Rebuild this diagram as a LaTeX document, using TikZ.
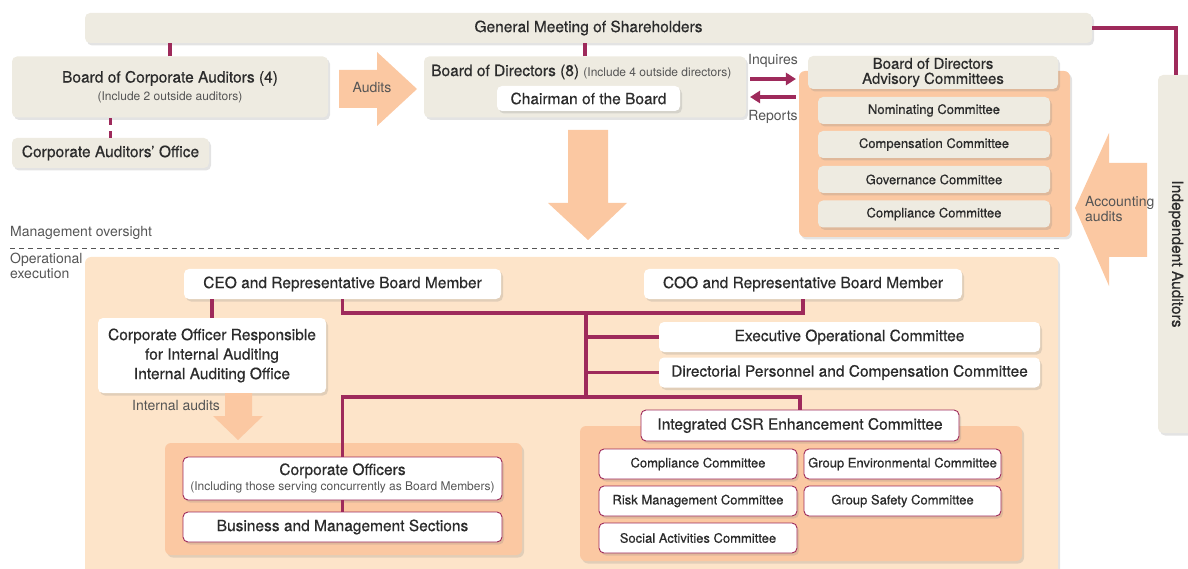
\documentclass[tikz,border=0pt]{standalone}
\usepackage{fontspec}
\setmainfont{TeX Gyre Heros}
\newfontfamily\medfont{TeX Gyre Heros}[FakeBold=0.5]
\usetikzlibrary{positioning,calc,shadows,arrows.meta}

\definecolor{beige}{HTML}{EEEBE1}
\definecolor{peachlight}{HTML}{FDE4C9}
\definecolor{peach}{HTML}{FBC8A2}
\definecolor{wine}{HTML}{9E2A5B}
\definecolor{ink}{HTML}{2B2B2B}
\definecolor{softink}{HTML}{555555}

\newcommand\mainsize{\medfont\fontsize{15.5}{18}\selectfont}
\newcommand\cmtsize{\medfont\fontsize{13}{15}\selectfont}
\newcommand\parensize{\normalfont\fontsize{12}{14}\selectfont}
\newcommand\notesize{\fontsize{14}{15}\selectfont}

\tikzset{
  shadowed/.style={drop shadow={shadow xshift=2pt,shadow yshift=-2.5pt,opacity=0.22}},
  beigebox/.style={shadowed, fill=beige, rounded corners=5pt, inner sep=1pt, align=center, font=\mainsize},
  whitebox/.style={shadowed, fill=white, rounded corners=5pt, inner sep=1pt, align=center, font=\mainsize},
  redbox/.style={whitebox, draw=wine, line width=0.9pt},
  region/.style={shadowed, fill=peach, rounded corners=6pt},
  link/.style={color=wine, line width=3.5pt},
  note/.style={text=softink, font=\notesize, inner sep=0pt}
}

\begin{document}
\begin{tikzpicture}[x=1pt,y=-1pt, every node/.style={text=ink}]
		\useasboundingbox (0,0) rectangle (1188,569);

		\path[shadowed, fill=peachlight, rounded corners=6pt] (85,257) rectangle (1058,600);
		\path[region] (165,443) rectangle (522,555);
		\path[region] (580,426) rectangle (1022,561);

		\node[beigebox, minimum width=1007, minimum height=30] (gms) at (588.5,28) {General Meeting of Shareholders};
		\node[beigebox, minimum width=316, minimum height=61] (bca) at (170,87)
			{Board of Corporate Auditors (4)\\{\parensize\color{softink}(Include 2 outside auditors)}};
		\node[beigebox, minimum width=197, minimum height=30] (cao) at (110.5,153) {Corporate Auditors’ Office};

		\node[beigebox, minimum width=322, minimum height=61] (bod) at (585,87) {};
		\node[anchor=west, inner sep=0pt, font=\mainsize] (bodt) at (431,72)
			{Board of Directors (8) {\parensize\color{softink}(Include 4 outside directors)}};
		\node[whitebox, minimum width=183, minimum height=25] (chair) at (588.5,98.5) {Chairman of the Board};

		\node[region, minimum width=271, minimum height=166] (adv) at (934.5,154) {};
		\node[beigebox, minimum width=250, minimum height=33, font=\medfont\fontsize{15}{15}\selectfont] (advh) at (933,72.5)
			{Board of Directors\\Advisory Committees};
		\node[beigebox, minimum width=232, minimum height=27, font=\cmtsize] (nom) at (934,110.5) {Nominating Committee};
		\node[beigebox, minimum width=232, minimum height=27, font=\cmtsize] (comp) at (934,144.5) {Compensation Committee};
		\node[beigebox, minimum width=232, minimum height=27, font=\cmtsize] (gov) at (934,179.5) {Governance Committee};
		\node[beigebox, minimum width=232, minimum height=27, font=\cmtsize] (compl) at (934,214) {Compliance Committee};

		\node[beigebox, minimum width=36, minimum height=358] (ia) at (1176,254) {};
		\node[rotate=-90, font=\mainsize] (iat) at (ia.center) {Independent Auditors};

		\fill[peach] (339,70) -- (377,70) -- (377,52) -- (417,89) -- (377,126) -- (377,108) -- (339,108) -- cycle;
		\node[note] (audits) at (372,88) {Audits};
		\fill[peach] (568,130) -- (608,130) -- (608,203) -- (627,203) -- (588,240) -- (548,203) -- (568,203) -- cycle;
		\fill[peach] (1147,163) -- (1109,163) -- (1109,133) -- (1075,208) -- (1109,286) -- (1109,257) -- (1147,257) -- cycle;
		\node[note, anchor=west, align=left] (acc) at (1085,209) {Accounting\\audits};

		\node[note] (inq) at (773,61) {Inquires};
		\node[note] (rep) at (773,117) {Reports};

		\draw[softink, line width=0.8pt, dash pattern=on 5pt off 4pt] (10,248) -- (1062,248);
		\node[note, anchor=west] (mo) at (10,233) {Management oversight};
		\node[note, anchor=west, align=left] (oe) at (10,265.5) {Operational\\execution};

		\node[whitebox, minimum width=317, minimum height=30] (ceo) at (342.5,284) {CEO and Representative Board Member};
		\node[whitebox, minimum width=318, minimum height=30] (coo) at (803,284) {COO and Representative Board Member};
		\node[whitebox, minimum width=228, minimum height=75, font=\medfont\fontsize{15.5}{19.5}\selectfont] (iao) at (212,355.5)
			{Corporate Officer Responsible\\for Internal Auditing\\Internal Auditing Office};
		\node[whitebox, minimum width=381, minimum height=30] (eoc) at (849.5,337) {Executive Operational Committee};
		\node[whitebox, minimum width=381, minimum height=30] (dpc) at (849.5,372.5) {Directorial Personnel and Compensation Committee};

		\fill[peach] (225,393) -- (252,393) -- (252,416) -- (263,416) -- (238,440) -- (213,416) -- (225,416) -- cycle;
		\node[note, anchor=west] (ina) at (132,405) {Internal audits};

		\node[redbox, minimum width=319, minimum height=43] (co) at (342.5,478.5)
			{Corporate Officers\\[-2pt]{\parensize\color{softink}(Including those serving concurrently as Board Members)}};
		\node[redbox, minimum width=319, minimum height=30] (bms) at (342.5,527) {Business and Management Sections};

		\node[redbox, minimum width=318, minimum height=31] (csr) at (800,425.5) {Integrated CSR Enhancement Committee};
		\node[redbox, minimum width=198, minimum height=30, font=\cmtsize] (sc1) at (698,464) {Compliance Committee};
		\node[redbox, minimum width=197, minimum height=30, font=\cmtsize] (sc2) at (902.5,464) {Group Environmental Committee};
		\node[redbox, minimum width=198, minimum height=30, font=\cmtsize] (sc3) at (698,501) {Risk Management Committee};
		\node[redbox, minimum width=197, minimum height=30, font=\cmtsize] (sc4) at (902.5,501) {Group Safety Committee};
		\node[redbox, minimum width=198, minimum height=30, font=\cmtsize] (sc5) at (698,538) {Social Activities Committee};

		\coordinate (bus) at (586,313);
		\coordinate (bus2) at (586,397);

		\begin{scope}[>={Triangle[length=10pt, width=13pt, line width=0pt]}]
			\draw[link] (bca.north) -- (bca.north |- gms.south);
			\draw[link] (bod.north) -- (bod.north |- gms.south);
			\draw[link] (gms.east) -| (ia.north);
			\draw[link, dash pattern=on 7pt off 6pt] (cao.north) -- (cao.north |- bca.south);
			\draw[link, ->] ($(bod.east)+(4,-8)$) -- ($(adv.west |- bod.east)+(-3,-8)$);
			\draw[link, ->] ($(adv.west |- bod.east)+(-3,10)$) -- ($(bod.east)+(4,10)$);

			\draw[link] (ceo.south) -- (ceo.south |- bus) -| (coo.south);
			\draw[link] (iao.north) -- (iao.north |- ceo.south);
			\draw[link] (bus) -- (bus2);
			\draw[link] (bus |- eoc.west) -- (eoc.west);
			\draw[link] (bus |- dpc.west) -- (dpc.west);
			\draw[link] (co.north) |- (bus2) -| (csr.north);
			\draw[link] (co.south) -- (bms.north);
		\end{scope}

	\end{tikzpicture}
\end{document}
